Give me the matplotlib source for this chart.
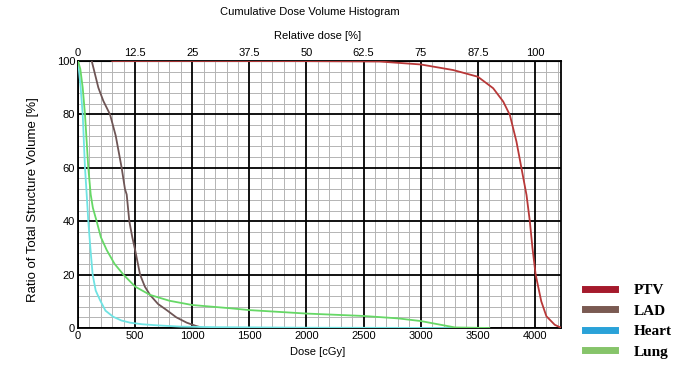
import numpy as np
import matplotlib.pyplot as plt
from matplotlib.lines import Line2D

# ---- data (dose in cGy, volume in %) ----
ptv_dose = [300, 1000, 2000, 2640, 3000, 3285, 3500, 3634, 3722, 3780, 3838,
            3882, 3926, 3955, 3978, 4006, 4055, 4100, 4173, 4232]
ptv_vol = [100, 100, 99.95, 99.8, 98.7, 96.6, 94.1, 89.8, 84.8, 79.8, 69.8,
           59.8, 49.8, 40, 30, 20, 10, 4.4, 1.2, 0]

lad_dose = [120, 149, 178, 222, 280, 330, 382, 411, 426, 449, 475, 500, 543,
            585, 630, 700, 776, 860, 951, 1030, 1095, 1400]
lad_vol = [100, 95, 90, 85, 80, 72, 60, 52, 50, 40, 34, 29.2, 20, 15.5, 12.4,
           9, 6.7, 4, 2, 0.8, 0, 0]

heart_dose = [0, 23, 41, 61, 76, 90, 108, 128, 155, 192, 240, 308, 380, 455,
              560, 688, 900, 1200, 2000, 3300]
heart_vol = [100, 90, 80, 60, 50, 40, 30, 20, 14, 10.5, 6.5, 4.2, 2.8, 2,
             1.4, 1.0, 0.5, 0.3, 0.1, 0]

lung_dose = [0, 20, 41, 61, 90, 111, 130, 163, 200, 251, 320, 397, 500, 630,
             800, 1000, 1330, 1500, 2000, 2500, 2800, 3000, 3200, 3300, 3600]
lung_vol = [100, 97, 90, 80, 60, 50, 45, 40, 34, 29.2, 24, 20, 15.5, 12.4,
            10.2, 8.6, 7.4, 6.7, 5.4, 4.5, 3.6, 2.6, 1.0, 0.2, 0]

structures = ['PTV', 'LAD', 'Heart', 'Lung']
line_colors = ['#b83838', '#6e5555', '#6fe3e3', '#66d866']
legend_colors = ['#a51a2c', '#7a5a52', '#2aa2d8', '#86c46a']

x_max = 4228
ref_dose = 4000  # 100 % relative dose

plt.rcParams['font.family'] = ['Liberation Sans', 'DejaVu Sans']

fig = plt.figure(figsize=(6.82, 3.76), dpi=100)
ax = fig.add_axes([0.1144, 0.1277, 0.7082, 0.7101])

for d, v, c in zip([ptv_dose, lad_dose, heart_dose, lung_dose],
                   [ptv_vol, lad_vol, heart_vol, lung_vol], line_colors):
    ax.plot(d, v, color=c, lw=1.3, zorder=3)

ax.set_xlim(0, x_max)
ax.set_ylim(0, 100)
ax.set_xticks(np.arange(0, 4001, 500))
ax.set_xticks(np.arange(0, x_max, 100), minor=True)
ax.set_yticks(np.arange(0, 101, 20))
ax.set_yticks(np.arange(0, 101, 4), minor=True)
# light grid first, heavy grid drawn on top of it
ax.grid(which='minor', color='#b4b4b4', lw=0.7)
ax.set_axisbelow(True)
ax.vlines(ax.get_xticks(), 0, 1, transform=ax.get_xaxis_transform(),
          color='black', lw=1.3, zorder=1)
ax.hlines(ax.get_yticks(), 0, 1, transform=ax.get_yaxis_transform(),
          color='black', lw=1.3, zorder=1)
ax.tick_params(which='both', length=0, labelsize=8, pad=2)
for s in ax.spines.values():
    s.set_color('black')
    s.set_linewidth(1.3)

top = ax.secondary_xaxis('top', functions=(lambda d: d / ref_dose * 100,
                                           lambda r: r * ref_dose / 100))
top.set_xticks([0, 12.5, 25, 37.5, 50, 62.5, 75, 87.5, 100])
top.set_xticklabels(['0', '12.5', '25', '37.5', '50', '62.5', '75', '87.5', '100'])
top.tick_params(length=0, labelsize=8, pad=2)

fig.text(0.455, 0.982, 'Cumulative Dose Volume Histogram', ha='center',
         va='top', fontsize=8)
fig.text(0.466, 0.905, 'Relative dose [%]', ha='center', va='center', fontsize=8)
fig.text(0.466, 0.064, 'Dose [cGy]', ha='center', va='center', fontsize=8)
fig.text(0.048, 0.47, 'Ratio of Total Structure Volume [%]', rotation=90,
         ha='center', va='center', fontsize=9.5)

handles = [Line2D([], [], color=c, lw=5) for c in legend_colors]
fig.legend(handles, structures, loc='upper left', bbox_to_anchor=(0.837, 0.283),
           frameon=False, handlelength=2.0, handletextpad=1.2, labelspacing=0.45,
           prop={'family': 'Liberation Serif', 'weight': 'bold', 'size': 11})

fig.savefig('out.png', dpi=100)
